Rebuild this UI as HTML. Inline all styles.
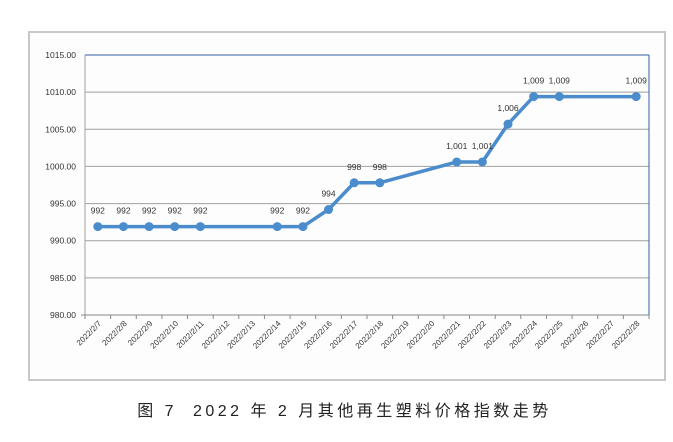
<!DOCTYPE html>
<html><head><meta charset="utf-8"><style>
body{margin:0;background:#fff;width:673px;height:442px;overflow:hidden;font-family:"Liberation Sans","Noto Sans CJK SC",sans-serif}
#frame{position:absolute;left:28px;top:31px;width:634px;height:346px;border:2px solid #c8c8c8;background:#fdfdfd}
#cap{position:absolute;left:8px;width:673px;top:397px;text-align:center;font-size:16px;letter-spacing:3.5px;color:#222}
</style></head><body>
<div id="frame"></div>
<svg id="chart" width="673" height="442" style="position:absolute;left:0;top:0"></svg>
<div id="cap">图 7&nbsp; 2022 年 2 月其他再生塑料价格指数走势</div>
<script>
const categories=["2022/2/7","2022/2/8","2022/2/9","2022/2/10","2022/2/11","2022/2/12","2022/2/13","2022/2/14","2022/2/15","2022/2/16","2022/2/17","2022/2/18","2022/2/19","2022/2/20","2022/2/21","2022/2/22","2022/2/23","2022/2/24","2022/2/25","2022/2/26","2022/2/27","2022/2/28"];
const values=[991.9,991.9,991.9,991.9,991.9,null,null,991.9,991.9,994.2,997.8,997.8,null,null,1000.6,1000.6,1005.7,1009.4,1009.4,null,null,1009.4];
const yTicks=[980,985,990,995,1000,1005,1010,1015];
const NS="http://www.w3.org/2000/svg";
const svg=document.getElementById('chart');
const L=85,R=649,T=55,B=315,yMin=980,yMax=1015;
const bw=(R-L)/categories.length;
const x=i=>L+bw*(i+0.5);
const y=v=>B-(v-yMin)/(yMax-yMin)*(B-T);
function mk(t,a){const e=document.createElementNS(NS,t);for(const k in a)e.setAttribute(k,a[k]);svg.appendChild(e);return e;}
yTicks.forEach(v=>{
  const g=mk('line',{x1:L,x2:R,y1:y(v),y2:y(v),stroke:v===yMax?'#2f5fa8':'#a0a0a0','stroke-width':1});
  
  
  const t=mk('text',{x:L-9,y:y(v)+3,'text-anchor':'end','font-size':8.5,fill:'#333'});
  t.textContent=v.toFixed(2);
  
  
});
const ax=mk('line',{x1:L,x2:L,y1:T,y2:B,stroke:'#a0a0a0'});


const rb=mk('line',{x1:R,x2:R,y1:T,y2:B,stroke:'#2f5fa8'});


const xa=mk('line',{x1:L-4,x2:R,y1:B,y2:B,stroke:'#888'});


for(let i=0;i<=categories.length;i++){
  const tk=mk('line',{x1:L+bw*i,x2:L+bw*i,y1:B,y2:B+4,stroke:'#888'});
  
  
}
categories.forEach((c,i)=>{
  const t=mk('text',{x:x(i)+4,y:B+9,'text-anchor':'end','font-size':8,fill:'#333',transform:`rotate(-45 ${x(i)+4} ${B+9})`});
  t.textContent=c;
  
  
});
let pts=[];values.forEach((v,i)=>{if(v!==null)pts.push([x(i),y(v)]);});
const ln=mk('polyline',{points:pts.map(p=>p.join(',')).join(' '),fill:'none',stroke:'#4a8ccc','stroke-width':3.5,'stroke-linejoin':'round'});


values.forEach((v,i)=>{
  if(v===null)return;
  const m=mk('circle',{cx:x(i),cy:y(v),r:4.5,fill:'#4a8ccc'});
  
  
  const t=mk('text',{x:x(i),y:y(v)-13,'text-anchor':'middle','font-size':8.5,fill:'#333'});
  t.textContent=Math.round(v).toLocaleString('en-US');
  
  
});
</script>
</body></html>
